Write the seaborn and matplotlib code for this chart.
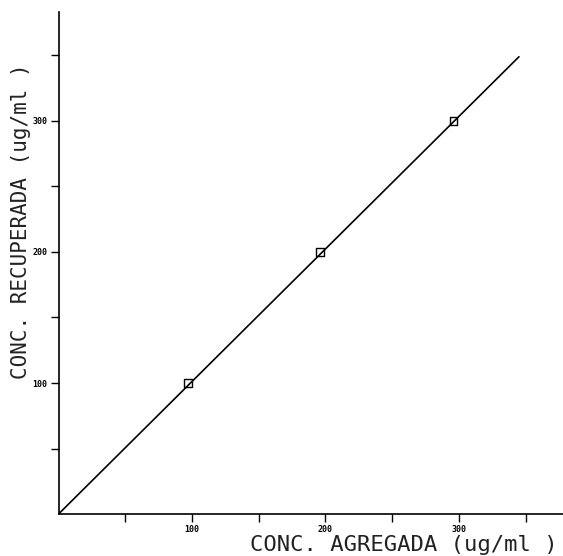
import matplotlib
matplotlib.use("Agg")
import matplotlib.pyplot as plt
import seaborn as sns
import pandas as pd

# recovery data
added = [97, 196, 296]
recovered = [100, 200, 300]
fit_x = [0, 345]
fit_y = [0, 349]

tick_pos = [50, 100, 150, 200, 250, 300, 350]
tick_labels = ["", "100", "", "200", "", "300", ""]

sns.set_style("white")
plt.rcParams["font.family"] = ["DejaVu Sans Mono", "DejaVu Sans"]
plt.rcParams["text.color"] = "black"
plt.rcParams["axes.labelcolor"] = "black"
plt.rcParams["xtick.color"] = "black"
plt.rcParams["ytick.color"] = "black"

fig = plt.figure(figsize=(5.63, 5.56), dpi=100)
ax = fig.add_axes([0.104, 0.0755, 0.896, 0.9025])

pts = pd.DataFrame({"x": added, "y": recovered})
fit = pd.DataFrame({"x": fit_x, "y": fit_y})

sns.lineplot(data=fit, x="x", y="y", ax=ax, color="black", linewidth=1.2)
sns.scatterplot(data=pts, x="x", y="y", ax=ax, marker="s", s=30,
                facecolor="none", edgecolor="black", linewidth=1.0, zorder=3)

ax.set_xlim(0, 378)
ax.set_ylim(0, 383)

ax.set_xticks(tick_pos)
ax.set_xticklabels(tick_labels, fontsize=6, fontweight="bold")
ax.set_yticks(tick_pos)
ax.set_yticklabels(tick_labels, fontsize=6, fontweight="bold")
ax.tick_params(axis="both", direction="out", length=6, width=1.0,
               color="black", pad=2, bottom=True, left=True)

sns.despine(ax=ax)
for side in ["left", "bottom"]:
    ax.spines[side].set_color("black")
    ax.spines[side].set_linewidth(1.2)

ax.set_xlabel("CONC. AGREGADA (ug/ml )", fontsize=16, ha="right", va="center",
              color="#222222")
ax.xaxis.set_label_coords(0.99, -0.062)
ax.set_ylabel("CONC. RECUPERADA (ug/ml )", fontsize=15, ha="center", va="center",
              color="#222222")
ax.yaxis.set_label_coords(-0.075, 0.584)

fig.savefig("out.png", dpi=100)
